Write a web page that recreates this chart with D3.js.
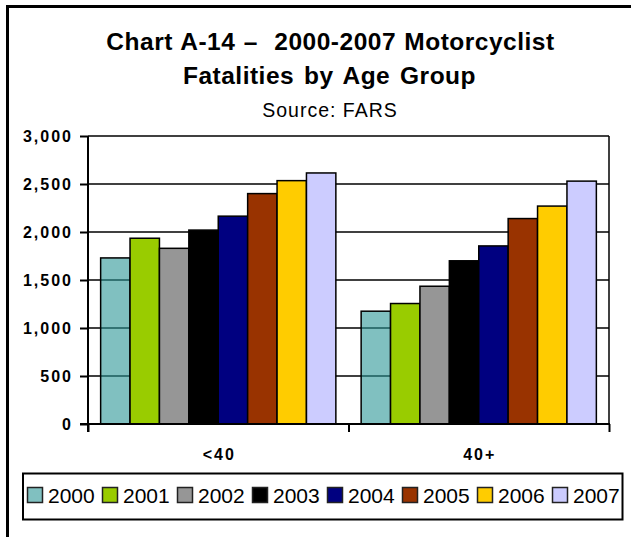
<!DOCTYPE html>
<html lang="en">
<head>
<meta charset="utf-8">
<title>Chart A-14</title>
<script src="https://cdn.jsdelivr.net/npm/d3@7"></script>
<style>
  body { margin: 0; background: #fff; }
  text { font-family: "Liberation Sans", Arial, sans-serif; fill: #000; }
  .grille line { stroke: #000; stroke-width: 1.5px; }
  .axeY path, .axeX path { display: none; }
  .axeY line, .ticksX line { stroke: #000; stroke-width: 2px; }
  .axeY text { font-size: 16px; font-weight: bold; letter-spacing: 2px; }
  .axeX text { font-size: 16px; font-weight: bold; letter-spacing: 2px; }
  .barre { stroke: #000; stroke-width: 1.5px; }
  .legende text { font-size: 21px; }
</style>
</head>
<body>
<svg width="631" height="537"></svg>
<script>
// donnees
const annees = ["2000", "2001", "2002", "2003", "2004", "2005", "2006", "2007"];
const groupes = ["<40", "40+"];
const moins40 = [1730, 1935, 1830, 2020, 2165, 2400, 2535, 2615];
const plus40 = [1175, 1255, 1435, 1700, 1855, 2140, 2270, 2530];
const graduations = [0, 500, 1000, 1500, 2000, 2500, 3000];
const couleurs = ["#80C0C0", "#99CC00", "#969696", "#000000", "#000080", "#993300", "#FFCC00", "#CCCCFF"];

const series = [moins40, plus40];

const svg = d3.select("svg");

// cadre exterieur (seulement haut et gauche visibles)
svg.append("path")
  .attr("d", "M7.5,537 V6.5 H631")
  .attr("fill", "none")
  .attr("stroke", "#000")
  .attr("stroke-width", 3);

// titre
const titre = svg.append("g").attr("text-anchor", "middle");
titre.append("text").attr("x", 330.5).attr("y", 49.5)
  .style("font-size", "24.5px").style("font-weight", "bold")
  .style("letter-spacing", "0.5px").style("word-spacing", "1px")
  .style("white-space", "pre")
  .text("Chart A-14 \u2013  2000-2007 Motorcyclist");
titre.append("text").attr("x", 329.5).attr("y", 83.5)
  .style("font-size", "24.5px").style("font-weight", "bold")
  .style("letter-spacing", "0.5px").style("word-spacing", "2.5px")
  .text("Fatalities by Age Group");
titre.append("text").attr("x", 330).attr("y", 116.5)
  .style("font-size", "19.5px").style("letter-spacing", "1px")
  .text("Source: FARS");

// echelles
const x0 = d3.scaleBand().domain(groupes).range([88, 609]);
const x1 = d3.scaleBand().domain(annees).range([0, x0.bandwidth()])
  .paddingInner(0).paddingOuter(0.43);
const y = d3.scaleLinear().domain([0, 3000]).range([424, 136]);

// grille
svg.append("g")
  .classed("grille", true)
  .selectAll("line")
  .data(graduations.filter(d => d > 0))
  .join("line")
    .attr("x1", 88).attr("x2", 609)
    .attr("y1", d => y(d)).attr("y2", d => y(d));

// bord droit de la zone de trace
svg.append("line")
  .attr("x1", 609).attr("x2", 609)
  .attr("y1", y(3000)).attr("y2", y(0))
  .attr("stroke", "#000").attr("stroke-width", 1.5);

// barres
const groupesG = svg.append("g")
  .selectAll("g")
  .data(groupes)
  .join("g")
    .attr("transform", d => `translate(${x0(d)},0)`);

groupesG.selectAll("rect")
  .data((g, i) => annees.map((a, j) => ({annee: a, valeur: series[i][j], j: j})))
  .join("rect")
    .classed("barre", true)
    .attr("x", d => x1(d.annee))
    .attr("width", x1.bandwidth())
    .attr("y", d => y(d.valeur))
    .attr("height", d => y(0) - y(d.valeur))
    // la serie 2000 laisse voir la grille, comme dans l'original
    .attr("fill", d => d.j === 0 ? "rgb(43,150,150)" : couleurs[d.j])
    .attr("fill-opacity", d => d.j === 0 ? 0.6 : 1);

// axe Y
svg.append("g")
  .classed("axeY", true)
  .attr("transform", "translate(88,0)")
  .call(d3.axisLeft(y).tickValues(graduations).tickSize(8).tickPadding(7)
    .tickFormat(d3.format(",")));

svg.append("line")
  .attr("x1", 88).attr("x2", 88).attr("y1", y(3000)).attr("y2", 432)
  .attr("stroke", "#000").attr("stroke-width", 2);

// axe X
svg.append("line")
  .attr("x1", 80).attr("x2", 610).attr("y1", y(0)).attr("y2", y(0))
  .attr("stroke", "#000").attr("stroke-width", 2);

const separations = d3.scaleLinear().domain([0, groupes.length]).range([88, 609]);
svg.append("g")
  .classed("ticksX", true)
  .attr("transform", `translate(0,${y(0)})`)
  .call(d3.axisBottom(separations).tickValues(d3.range(groupes.length + 1))
    .tickSize(8).tickFormat(""))
  .call(g => g.select(".domain").remove());

svg.append("g")
  .classed("axeX", true)
  .attr("transform", `translate(1,${y(0)})`)
  .call(d3.axisBottom(x0).tickSize(0).tickPadding(25))
  .call(g => g.selectAll("line").remove());

// legende
const legende = svg.append("g").classed("legende", true);
legende.append("rect")
  .attr("x", 23).attr("y", 473.5).attr("width", 599.5).attr("height", 46)
  .attr("fill", "#fff").attr("stroke", "#000").attr("stroke-width", 2);

const pas = 75;
const item = legende.selectAll("g.item")
  .data(annees)
  .join("g")
    .classed("item", true)
    .attr("transform", (d, i) => `translate(${27.5 + i * pas},0)`);

item.append("rect")
  .attr("x", 0).attr("y", 487.5).attr("width", 15).attr("height", 15)
  .attr("fill", (d, i) => couleurs[i])
  .attr("stroke", "#222").attr("stroke-width", 1.5);

item.append("text")
  .attr("x", 20.5).attr("y", 502.5)
  .text(d => d);
</script>
</body>
</html>
